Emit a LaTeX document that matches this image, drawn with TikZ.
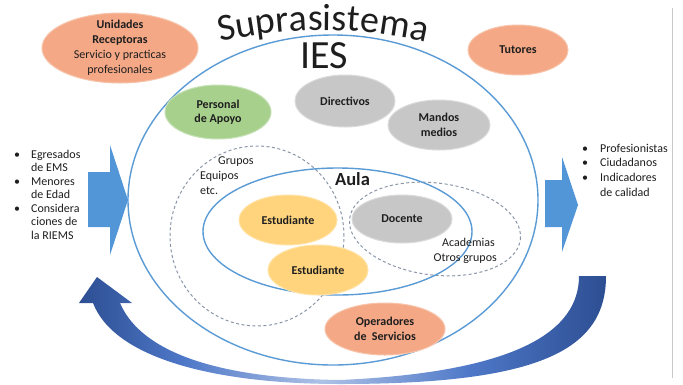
\documentclass[tikz,border=0pt]{standalone}
\usepackage{fontspec}
\setmainfont{Carlito}
\usetikzlibrary{shapes.geometric,decorations.text}
\definecolor{txt}{HTML}{1E1E1E}
\definecolor{salmonF}{HTML}{F4A886}
\definecolor{salmonD}{HTML}{F7C4AA}
\definecolor{grayF}{HTML}{C7C7C7}
\definecolor{grayD}{HTML}{DADADA}
\definecolor{greenF}{HTML}{A8D08D}
\definecolor{greenD}{HTML}{C5E0B4}
\definecolor{yellowF}{HTML}{FFD47C}
\definecolor{yellowD}{HTML}{FFE3A6}
\definecolor{lineblue}{HTML}{5B9BD5}
\definecolor{dashgray}{HTML}{8A96A8}
\definecolor{blockblue}{HTML}{5296D8}
\definecolor{adark}{HTML}{2D4E92}
\definecolor{amid}{HTML}{4E78C8}
\definecolor{alight}{HTML}{AEC2E6}
\definecolor{bordergray}{HTML}{C8C8C8}
\pgfdeclarehorizontalshading{bandshade}{100bp}{color(0bp)=(adark); color(25bp)=(adark); color(35bp)=(amid); color(48bp)=(alight); color(62bp)=(amid); color(75bp)=(adark); color(100bp)=(adark)}
\tikzset{
  blob/.style={ellipse, inner sep=0pt, line width=1pt},
  salmonblob/.style={blob, fill=salmonF, draw=salmonD},
  grayblob/.style={blob, fill=grayF, draw=grayD},
  greenblob/.style={blob, fill=greenF, draw=greenD},
  yellowblob/.style={blob, fill=yellowF, draw=yellowD},
  lbl/.style={font=\fontsize{12}{14.5}\selectfont, text=txt, align=center, inner sep=0pt},
  plain/.style={font=\fontsize{12}{14}\selectfont, text=txt, inner sep=0pt},
  solidring/.style={draw=lineblue, line width=1.4pt},
  dashring/.style={draw=dashgray, line width=1pt, dash pattern=on 3pt off 2.5pt},
}
\begin{document}
\begin{tikzpicture}[x=1pt,y=1pt]
\useasboundingbox (0,0) rectangle (683,-384);
\fill[white] (0,0) rectangle (683,-384);

% page edge line
\draw[bordergray, line width=0.8pt] (672,-8) -- (672,-378);

% rings
\draw[solidring] (333,-200) ellipse [x radius=205, y radius=165];
\draw[dashring] (257,-236) ellipse [x radius=87, y radius=90];
\draw[dashring, rotate around={-7:(435,-229)}] (435,-229) ellipse [x radius=86, y radius=46];
\draw[solidring] (337.5,-231.5) ellipse [x radius=134.5, y radius=63.5];

% title
\path[decorate, decoration={text along path, text color=txt, text align=center,
  text={|\fontsize{38}{42}\selectfont|Suprasistema}}]
  (323,-482) ++(104.5:452) arc[start angle=104.5, end angle=75.5, radius=452];
\node[font=\fontsize{40}{44}\selectfont, text=txt, inner sep=0pt] (ies) at (324,-55.5) {IES};

% outer ellipses
\node[salmonblob, minimum width=156pt, minimum height=70pt] (ur) at (120,-48) {};
\node[lbl, font=\fontsize{12}{15}\selectfont] (urt) at (ur) {\textbf{Unidades}\\\textbf{Receptoras}\\Servicio y practicas\\profesionales};
\node[salmonblob, minimum width=100pt, minimum height=50pt] (tut) at (518,-50) {};
\node[lbl] (tutt) at (tut) {\textbf{Tutores}};
\node[greenblob, minimum width=106pt, minimum height=54pt] (pa) at (218,-112) {};
\node[lbl] (pat) at (pa) {\textbf{Personal}\\\textbf{de Apoyo}};
\node[grayblob, minimum width=100pt, minimum height=52pt] (dir) at (345,-101) {};
\node[lbl] (dirt) at (dir) {\textbf{Directivos}};
\node[grayblob, minimum width=102pt, minimum height=50pt] (mm) at (439,-125) {};
\node[lbl] (mmt) at (mm) {\textbf{Mandos}\\\textbf{medios}};
\node[salmonblob, minimum width=120pt, minimum height=52pt] (op) at (385,-329) {};
\node[lbl, font=\fontsize{12}{15}\selectfont] (opt) at (op) {\textbf{Operadores}\\\textbf{de~~Servicios}};

% aula
\node[yellowblob, minimum width=98pt, minimum height=50pt] (e1) at (288,-220) {};
\node[lbl] (e1t) at (e1) {\textbf{Estudiante}};
\node[grayblob, minimum width=100pt, minimum height=48pt] (doc) at (402,-219) {};
\node[lbl] (doct) at (doc) {\textbf{Docente}};
\node[yellowblob, minimum width=100pt, minimum height=50pt] (e2) at (318,-270) {};
\node[lbl] (e2t) at (e2) {\textbf{Estudiante}};
\node[font=\fontsize{18.5}{20}\selectfont\bfseries, text=txt, inner sep=0pt] (aula) at (352.5,-179.5) {Aula};

\node[plain, anchor=base west] (g1) at (218,-164) {Grupos};
\node[plain, anchor=base west] (g2) at (200,-179) {Equipos};
\node[plain, anchor=base west] (g3) at (200,-194) {etc.};
\node[plain, anchor=base east] (a1) at (495,-246) {Academias};
\node[plain, anchor=base east] (a2) at (497,-261) {Otros grupos};

% lists
\node[anchor=north west, inner sep=0pt, font=\fontsize{12}{13.5}\selectfont, text=txt] (inlist) at (14,-148.5)
  {\begin{tabular}{@{}l@{\hspace{11pt}}l@{}}•&Egresados\\&de EMS\\•&Menores\\&de Edad\\•&Considera\\&ciones de\\&la RIEMS\end{tabular}};
\node[anchor=north west, inner sep=0pt, font=\fontsize{12}{14.8}\selectfont, text=txt] (outlist) at (582,-141.5)
  {\begin{tabular}{@{}l@{\hspace{12pt}}l@{}}•&Profesionistas\\•&Ciudadanos\\•&Indicadores\\&de calidad\end{tabular}};

% block arrows
\fill[blockblue] (88,-172) -- (110,-172) -- (110,-145) -- (128,-200) -- (110,-255) -- (110,-227) -- (88,-227) -- cycle;
\fill[blockblue] (545,-180) -- (562,-180) -- (562,-157) -- (578,-205) -- (562,-252) -- (562,-227) -- (545,-227) -- cycle;

% curved feedback arrow
\shade[shading=bandshade] (606,-276) -- (579,-276)
  .. controls (579,-330) and (520,-372) .. (340,-380)
  .. controls (200,-378) and (138,-345) .. (120,-303)
  -- (132,-303) -- (97,-277) -- (79,-303) -- (93,-303)
  .. controls (115,-360) and (220,-384) .. (340,-384)
  .. controls (540,-384) and (606,-350) .. (606,-276) -- cycle;
\end{tikzpicture}
\end{document}
